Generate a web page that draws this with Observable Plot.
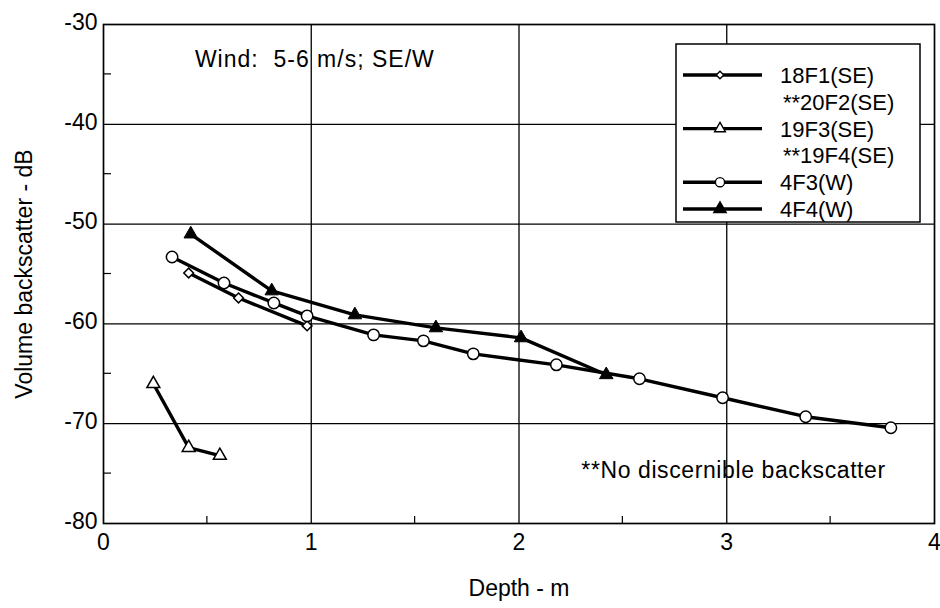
<!DOCTYPE html>
<html><head><meta charset="utf-8">
<script src="https://cdn.jsdelivr.net/npm/d3@7"></script>
<script src="https://cdn.jsdelivr.net/npm/@observablehq/plot@0.6"></script>
<style>
html,body{margin:0;padding:0;background:#fff;}
#chart{position:relative;width:940px;height:608px;font-family:"Liberation Sans",Arial,Helvetica,sans-serif;}
#legend{position:absolute;left:0;top:0;pointer-events:none;}
</style></head><body>
<div id="chart"></div>
<script>
// ---- data ----
const depth18F1 = [0.41, 0.65, 0.98];
const db18F1    = [-54.9, -57.4, -60.2];

const depth19F3 = [0.24, 0.41, 0.56];
const db19F3    = [-66.0, -72.4, -73.2];

const depth4F3 = [0.33, 0.58, 0.82, 0.98, 1.30, 1.54, 1.78, 2.18, 2.58, 2.98, 3.38, 3.79];
const db4F3    = [-53.3, -55.9, -57.9, -59.2, -61.1, -61.7, -63.0, -64.1, -65.5, -67.4, -69.3, -70.4];

const depth4F4 = [0.42, 0.81, 1.21, 1.60, 2.01, 2.42];
const db4F4    = [-51.0, -56.7, -59.1, -60.4, -61.4, -65.1];

const legendNames = ["18F1(SE)", "**20F2(SE)", "19F3(SE)", "**19F4(SE)", "4F3(W)", "4F4(W)"];
const legendSymbols = ["diamond", null, "triangleOpen", null, "circle", "triangleFilled"];

const xTicks = [0, 1, 2, 3, 4];
const xMinor = [0.5, 1.5, 2.5, 3.5];
const yTicks = [-30, -40, -50, -60, -70, -80];
const yMinor = [-35, -45, -55, -65, -75];

const xLabel = "Depth - m";
const yLabel = "Volume backscatter - dB";
const windNote = "Wind:\u00a0 5-6 m/s; SE/W";
const noNote = "**No discernible backscatter";

const toRows = (xs, ys) => xs.map((x, i) => ({x, y: ys[i]}));
const s18F1 = toRows(depth18F1, db18F1);
const s19F3 = toRows(depth19F3, db19F3);
const s4F3 = toRows(depth4F3, db4F3);
const s4F4 = toRows(depth4F4, db4F4);

const FONT = "Liberation Sans, Arial, Helvetica, sans-serif";
const LW = 3.4;
const fmt = d => String(d);

const minorTicks = (index, scales, values, dim) => {
  const g = d3.create("svg:g").attr("stroke", "black").attr("stroke-width", 1.2);
  const x0 = dim.marginLeft, yb = dim.height - dim.marginBottom;
  for (const v of yMinor) {
    const y = scales.y(v);
    g.append("line").attr("x1", x0).attr("x2", x0 + 8).attr("y1", y).attr("y2", y);
  }
  for (const v of xMinor) {
    const x = scales.x(v);
    g.append("line").attr("x1", x).attr("x2", x).attr("y1", yb).attr("y2", yb - 7);
  }
  return g.node();
};

const chart = Plot.plot({
  width: 940, height: 608,
  marginLeft: 103, marginRight: 6, marginTop: 24, marginBottom: 85,
  style: {fontFamily: FONT, fontSize: "23px", color: "black", background: "white"},
  x: {domain: [0, 4]},
  y: {domain: [-80, -30]},
  marks: [
    Plot.gridX([1, 2, 3], {stroke: "black", strokeOpacity: 1, strokeWidth: 1.3}),
    Plot.gridY([-40, -50, -60, -70], {stroke: "black", strokeOpacity: 1, strokeWidth: 1.3}),
    minorTicks,
    Plot.frame({stroke: "black", strokeWidth: 1.7}),
    Plot.axisX(xTicks, {tickSize: 0, tickPadding: 10, fontSize: 23, tickFormat: fmt, label: xLabel, labelAnchor: "center", labelArrow: "none", labelOffset: 72}),
    Plot.axisY(yTicks, {tickSize: 0, tickPadding: 6, fontSize: 23, dy: -2, tickFormat: fmt, label: yLabel, labelAnchor: "center", labelArrow: "none", labelOffset: 88}),
    Plot.line(s19F3, {x: "x", y: "y", stroke: "black", strokeWidth: LW}),
    Plot.line(s18F1, {x: "x", y: "y", stroke: "black", strokeWidth: LW}),
    Plot.line(s4F3, {x: "x", y: "y", stroke: "black", strokeWidth: LW}),
    Plot.line(s4F4, {x: "x", y: "y", stroke: "black", strokeWidth: LW}),
    Plot.dot(s19F3, {x: "x", y: "y", symbol: "triangle", r: 4.8, fill: "white", stroke: "black", strokeWidth: 1.5}),
    Plot.dot(s18F1, {x: "x", y: "y", symbol: "diamond2", r: 4.4, fill: "white", stroke: "black", strokeWidth: 1.5}),
    Plot.dot(s4F3, {x: "x", y: "y", symbol: "circle", r: 5.7, fill: "white", stroke: "black", strokeWidth: 1.5}),
    Plot.dot(s4F4, {x: "x", y: "y", symbol: "triangle", r: 5.0, fill: "black", stroke: "black", strokeWidth: 1}),
    Plot.text([windNote], {x: 0.44, y: -33.5, text: d => d, textAnchor: "start", fontSize: 23, fill: "black", style: {letterSpacing: "1px"}}),
    Plot.text([noNote], {x: 2.30, y: -74.7, text: d => d, textAnchor: "start", fontSize: 23, fill: "black"})
  ]
});
document.getElementById("chart").appendChild(chart);
d3.select(chart).selectAll("text").filter(function() { return this.textContent === windNote; }).style("letter-spacing", "1px");
d3.select(chart).selectAll("text").filter(function() { return this.textContent === noNote; }).style("letter-spacing", "0.6px");

// ---- legend overlay ----
const L = {left: 676, top: 44, right: 920, bottom: 222, rowY0: 75, rowStep: 26.8, lineX1: 683, lineX2: 762, markX: 720, textX: 780, textXNoLine: 783};
const svg = d3.select("#chart").append("svg")
  .attr("id", "legend").attr("width", 940).attr("height", 608)
  .style("font-family", FONT).style("font-size", "22px");
svg.append("rect").attr("x", L.left).attr("y", L.top)
  .attr("width", L.right - L.left).attr("height", L.bottom - L.top)
  .attr("fill", "white").attr("stroke", "black").attr("stroke-width", 1.5);
legendNames.forEach((name, i) => {
  const y = L.rowY0 + i * L.rowStep;
  const sym = legendSymbols[i];
  if (sym) {
    svg.append("line").attr("x1", L.lineX1).attr("x2", L.lineX2).attr("y1", y).attr("y2", y)
      .attr("stroke", "black").attr("stroke-width", LW);
    let type = d3.symbolCircle, size = Math.PI * 4.6 * 4.6, fill = "white";
    if (sym === "diamond") { type = d3.symbolDiamond2; size = Math.PI * 3.4 * 3.4; }
    if (sym === "triangleOpen") { type = d3.symbolTriangle; size = Math.PI * 4.0 * 4.0; }
    if (sym === "triangleFilled") { type = d3.symbolTriangle; size = Math.PI * 4.6 * 4.6; fill = "black"; }
    svg.append("path").attr("d", d3.symbol(type, size)()).attr("transform", `translate(${L.markX},${y})`)
      .attr("fill", fill).attr("stroke", "black").attr("stroke-width", 1.4);
  }
  svg.append("text").attr("x", sym ? L.textX : L.textXNoLine).attr("y", y).attr("dy", "0.36em")
    .attr("fill", "black").text(name);
});
</script>
</body></html>
